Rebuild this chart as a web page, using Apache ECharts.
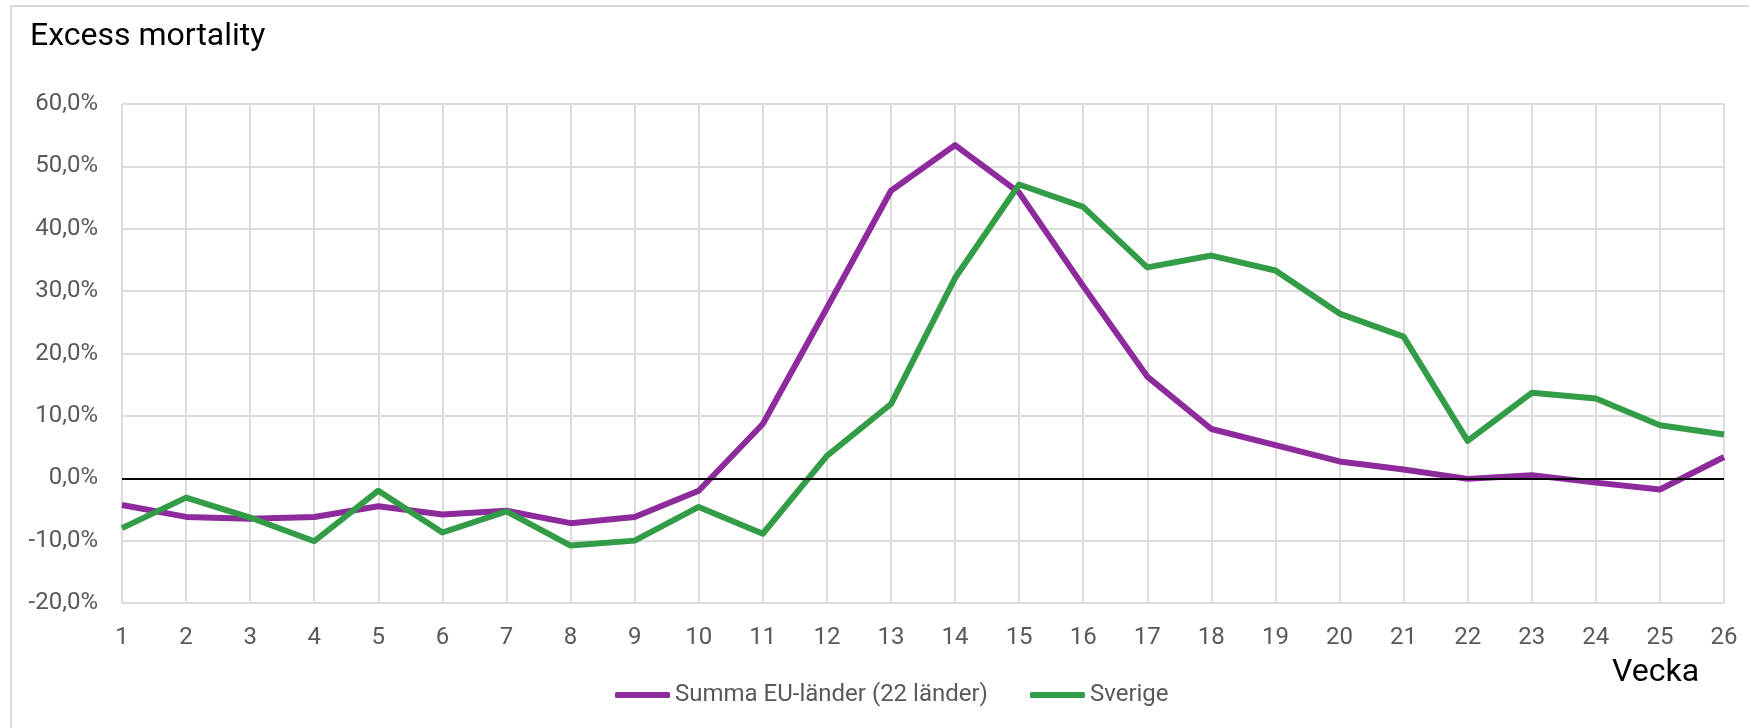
<!DOCTYPE html>
<html>
<head>
<meta charset="utf-8">
<script src="https://cdn.jsdelivr.net/npm/echarts@6/dist/echarts.min.js"></script>
<style>
html,body{margin:0;padding:0;background:#fff;}
#chart{width:1749px;height:728px;}
</style>
</head>
<body>
<div id="chart"></div>
<script>
const weeks = ['1','2','3','4','5','6','7','8','9','10','11','12','13','14','15','16','17','18','19','20','21','22','23','24','25','26'];
const euValues = [-4.3, -6.2, -6.5, -6.2, -4.5, -5.8, -5.2, -7.2, -6.2, -2.0, 8.7, 27.3, 46.1, 53.4, 45.8, 30.8, 16.3, 7.9, 5.3, 2.7, 1.4, -0.1, 0.5, -0.7, -1.8, 3.4];
const seValues = [-8.0, -3.1, -6.3, -10.1, -2.0, -8.7, -5.3, -10.8, -10.0, -4.6, -8.9, 3.6, 11.9, 32.1, 47.1, 43.5, 33.8, 35.7, 33.3, 26.4, 22.7, 6.0, 13.7, 12.8, 8.5, 7.0];
const seriesNames = ['Summa EU-länder (22 länder)', 'Sverige'];
const titleText = 'Excess mortality';
const xAxisTitle = 'Vecka';

const chart = echarts.init(document.getElementById('chart'), null, {renderer: 'canvas'});
const font = 'Roboto, "Noto Sans", sans-serif';
const option = {
  backgroundColor: '#fff',
  animation: false,
  title: {
    text: titleText,
    left: 25,
    top: 16,
    textStyle: {fontFamily: font, fontSize: 32, fontWeight: 'normal', color: '#000'}
  },
  legend: {
    left: 610,
    top: 678,
    itemWidth: 55,
    itemHeight: 6,
    itemGap: 42,
    icon: 'roundRect',
    textStyle: {fontFamily: font, fontSize: 24, color: '#595959'},
    data: seriesNames
  },
  grid: {left: 122, right: 25, top: 104, bottom: 125, containLabel: false},
  xAxis: {
    type: 'category',
    data: weeks,
    boundaryGap: false,
    axisLine: {show: false},
    axisTick: {show: false},
    axisLabel: {interval: 0, margin: 23, fontFamily: font, fontSize: 24, color: '#595959'},
    splitLine: {show: true, interval: 0, lineStyle: {color: '#dcdcdc', width: 2}}
  },
  yAxis: {
    type: 'value',
    min: -20,
    max: 60,
    interval: 10,
    axisLine: {show: false},
    axisTick: {show: false},
    axisLabel: {
      margin: 24, fontFamily: font, fontSize: 24, color: '#595959',
      formatter: v => v.toFixed(1).replace('.', ',') + '%'
    },
    splitLine: {show: true, lineStyle: {color: '#dcdcdc', width: 2}}
  },
  graphic: [
    {type: 'rect', shape: {x: 11, y: 6, width: 1760, height: 760}, style: {fill: 'none', stroke: '#d9d9d9', lineWidth: 2}, silent: true, z: -1},
    {type: 'text', left: 1612, top: 657, style: {text: xAxisTitle, font: '32px ' + font, fill: '#000'}}
  ],
  series: [
    {
      name: seriesNames[0], type: 'line', data: euValues, symbol: 'none',
      lineStyle: {color: '#8d2a9c', width: 6, join: 'round'},
      itemStyle: {color: '#8d2a9c'},
      markLine: {
        silent: true, symbol: 'none', label: {show: false},
        lineStyle: {color: '#000', width: 2, type: 'solid'},
        data: [{yAxis: 0}]
      },
      z: 2
    },
    {
      name: seriesNames[1], type: 'line', data: seValues, symbol: 'none',
      lineStyle: {color: '#339c47', width: 6, join: 'round'},
      itemStyle: {color: '#339c47'},
      z: 3
    }
  ]
};
chart.setOption(option);
</script>
</body>
</html>
